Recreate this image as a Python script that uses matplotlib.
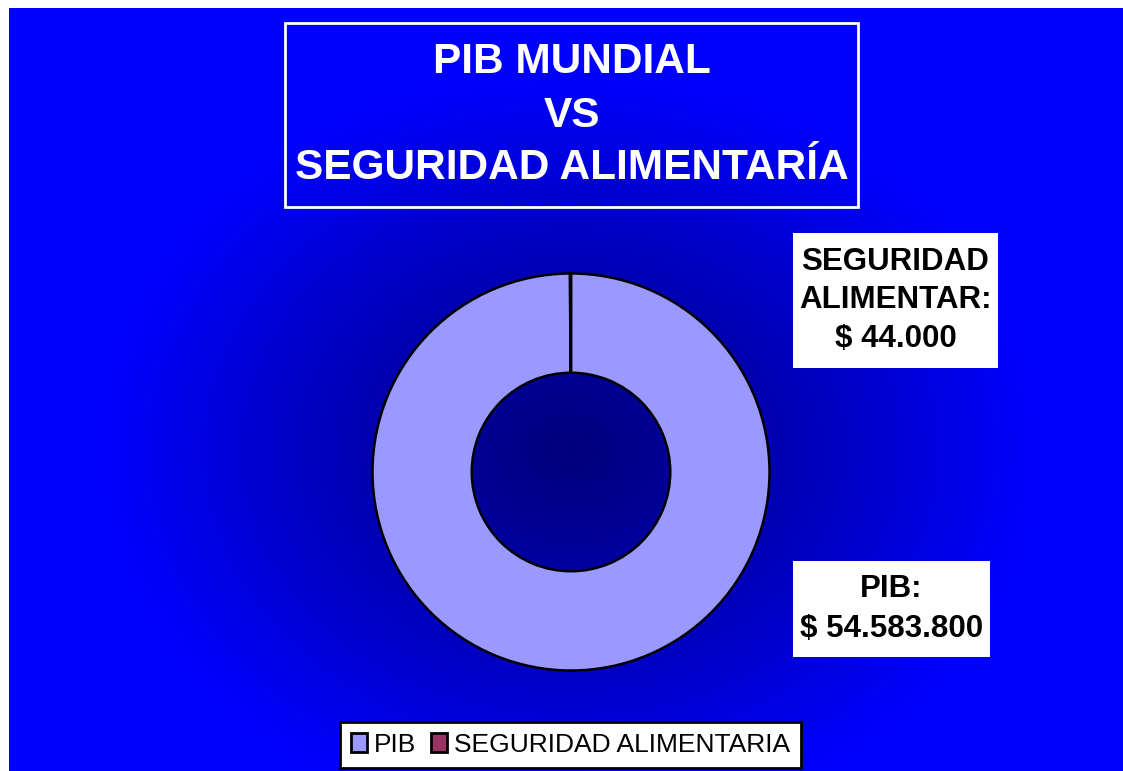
import numpy as np
import matplotlib
matplotlib.use("Agg")
import matplotlib.pyplot as plt
from matplotlib.patches import Rectangle, Patch

# ---- data ----
categories = ["PIB", "SEGURIDAD ALIMENTARIA"]
values = [54583800, 44000]
label_names = ["PIB", "SEGURIDAD\nALIMENTAR"]
colors = ["#9999FF", "#993366"]
title_lines = ["PIB MUNDIAL", "VS", "SEGURIDAD ALIMENTARÍA"]

W, H = 1123, 771
fig = plt.figure(figsize=(W / 100, H / 100), dpi=100)
fig.patch.set_facecolor("white")
FONT = "Liberation Sans"


def fx(x):
    return x / W


def fy(y):
    return 1 - y / H


# ---- gradient background ----
bg = fig.add_axes([fx(9), 0, 1 - fx(9), 1 - 8 / H])
bg.set_axis_off()
nx, ny = 400, 300
xs = np.linspace(9, W, nx)
ys = np.linspace(8, H, ny)
X, Y = np.meshgrid(xs, ys)
cx, cy = 571, 450
d = np.sqrt(((X - cx) / 470) ** 2 + ((Y - cy) / 380) ** 2)
t = np.clip(d, 0, 1) ** 1.1
dark = np.array([0, 0, 125]) / 255
bright = np.array([0, 0, 255]) / 255
img = dark[None, None, :] * (1 - t[..., None]) + bright[None, None, :] * t[..., None]
bg.imshow(img, extent=[0, 1, 0, 1], aspect="auto", origin="upper", interpolation="bilinear")
bg.set_xlim(0, 1)
bg.set_ylim(0, 1)

# ---- title box ----
fig.patches.append(Rectangle((fx(285), fy(207)), fx(858) - fx(285), fy(23) - fy(207),
                             transform=fig.transFigure, fill=False, edgecolor="white",
                             linewidth=2, zorder=5))
for line, yy in zip(title_lines, [62, 116, 168]):
    fig.text(fx(571.5), fy(yy), line, ha="center", va="center", color="white",
             fontsize=30.5, fontweight="bold", family=FONT, zorder=6)

# ---- donut ----
cxp, cyp, r = 571, 472, 200.5
ax = fig.add_axes([fx(cxp - r), fy(cyp + r), 2 * r / W, 2 * r / H])
ax.pie(values, colors=colors, startangle=90, counterclock=False, radius=1,
       wedgeprops=dict(width=0.5, edgecolor="black", linewidth=1.8))
ax.set_xlim(-1.01, 1.01)
ax.set_ylim(-1.01, 1.01)
ax.set_axis_off()


def fmt(v):
    return "$ " + f"{v:,}".replace(",", ".")


# ---- data labels ----
boxes = [(793, 561, 990, 657), (793, 233, 998, 368)]
line_ys = [[589, 629], [262, 300, 339]]
for i, (name, v) in enumerate(zip(label_names, values)):
    x0, y0, x1, y1 = boxes[i]
    fig.patches.append(Rectangle((fx(x0), fy(y1)), fx(x1) - fx(x0), fy(y0) - fy(y1),
                                 transform=fig.transFigure, facecolor="white",
                                 edgecolor="none", zorder=5))
    lines = (name + ":").split("\n") + [fmt(v)]
    for ln, yy in zip(lines, line_ys[i]):
        fig.text(fx((x0 + x1) / 2), fy(yy), ln, ha="center", va="center", color="black",
                 fontsize=22.5, fontweight="bold", family=FONT, zorder=6)

# ---- legend ----
handles = [Patch(facecolor=c, edgecolor="black", linewidth=2) for c in colors]
leg = fig.legend(handles, categories, loc="center", bbox_to_anchor=(fx(570.5), fy(745)),
                 ncol=2, frameon=True, fancybox=False, prop=dict(family=FONT, size=19),
                 handlelength=0.6, handleheight=0.75, handletextpad=0.25,
                 columnspacing=0.6, borderpad=0.42, borderaxespad=0)
leg.get_frame().set_edgecolor("black")
leg.get_frame().set_linewidth(2)
leg.get_frame().set_facecolor("white")
leg.get_frame().set_alpha(1)

fig.savefig("out.png", dpi=100)
